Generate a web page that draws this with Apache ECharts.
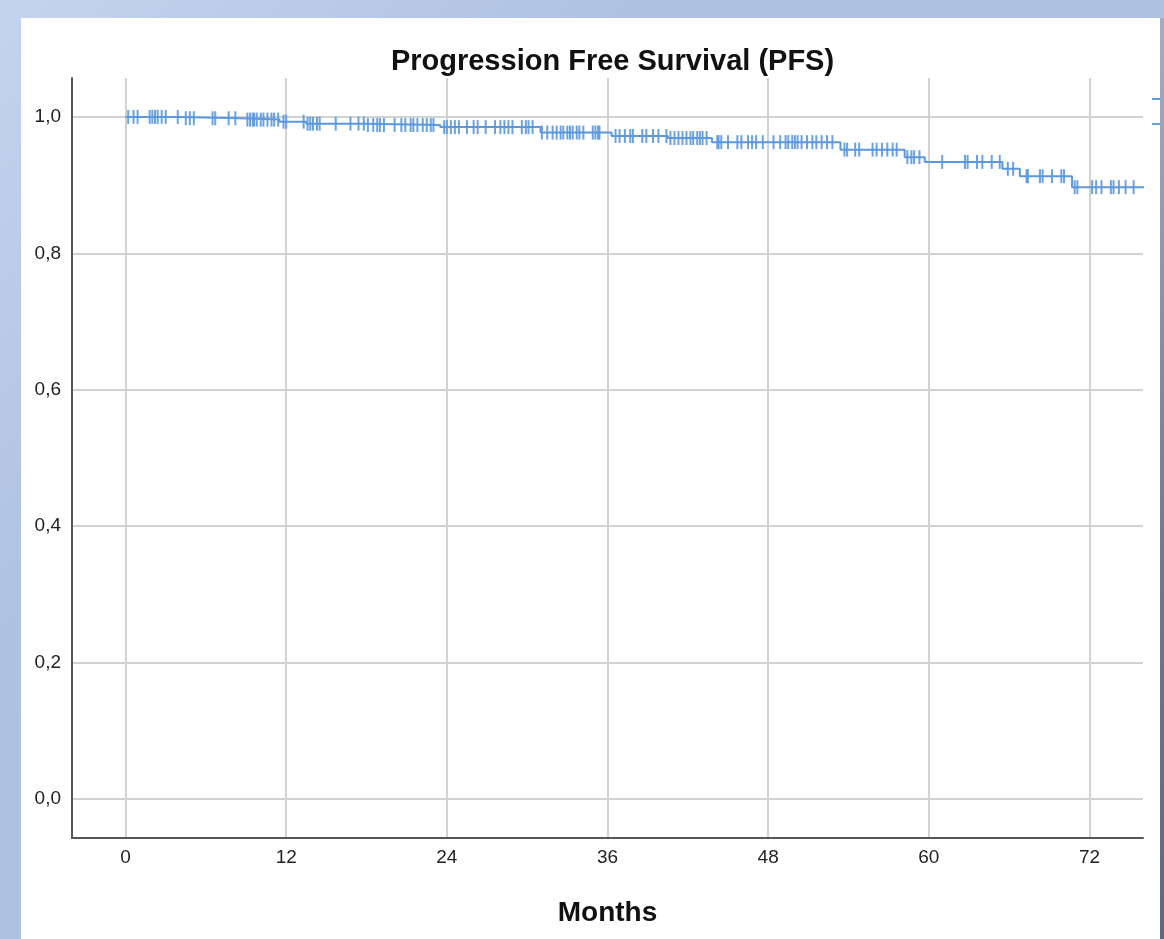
<!DOCTYPE html>
<html>
<head>
<meta charset="utf-8">
<script src="https://cdn.jsdelivr.net/npm/echarts@6/dist/echarts.min.js"></script>
<style>
  html, body { margin:0; padding:0; width:1164px; height:939px; overflow:hidden; }
  body { background: linear-gradient(135deg, #c4d4ee 0%, #b0c2e2 30%, #aebfdc 100%); position:relative; }
  #panel { position:absolute; left:21px; top:18px; width:1139px; height:921px; background:#ffffff; }
  #strip { position:absolute; left:1160px; top:18px; width:4px; height:921px; background:linear-gradient(180deg,#a2aec8 0%,#6e7890 60%,#5f6880 100%); z-index:10; }
  #chart { position:absolute; left:0; top:0; width:1164px; height:939px; z-index:5; }
</style>
</head>
<body>
<div id="panel"></div>
<div id="chart"></div>
<div id="strip"></div>
<script>
// Kaplan-Meier step points: event time (months) and survival after the event
const eventTimes = [0, 4, 8.5, 11.5, 13.5, 18, 23.5, 31, 36.3, 40.5, 43.8, 53.4, 58.2, 59.7, 65.5, 66.8, 70.7, 76.3];
const survival   = [1.0, 0.998, 0.996, 0.993, 0.990, 0.988, 0.985, 0.977, 0.972, 0.969, 0.963, 0.952, 0.941, 0.934, 0.924, 0.913, 0.897, 0.897];

// Censoring times (months)
const censorTimes = [
  0.2, 0.6, 0.9, 1.8, 2.0, 2.2, 2.4, 2.7, 3.0, 3.9, 4.5, 4.8, 5.1, 6.5, 6.7, 7.7, 8.2, 9.1, 9.3, 9.5, 9.6, 9.8,
  10.1, 10.3, 10.6, 10.9, 11.1, 11.4, 11.8, 12.0, 13.3, 13.6, 13.8, 14.0, 14.3, 14.5, 15.7, 16.8, 17.4, 17.8,
  18.1, 18.5, 18.8, 19.0, 19.3, 20.1, 20.6, 20.9, 21.3, 21.5, 21.8, 22.2, 22.5, 22.8, 23.0, 23.8, 24.0, 24.3,
  24.6, 24.9, 25.5, 26.0, 26.3, 26.9, 27.6, 28.0, 28.3, 28.6, 28.9, 29.6, 29.9, 30.1, 30.4, 31.1, 31.5, 31.9,
  32.2, 32.5, 32.7, 33.0, 33.2, 33.4, 33.7, 33.9, 34.2, 34.9, 35.1, 35.3, 35.4, 36.6, 36.9, 37.3, 37.7, 37.9,
  38.6, 38.9, 39.4, 39.8, 40.4, 40.7, 41.0, 41.3, 41.6, 41.9, 42.2, 42.4, 42.7, 42.9, 43.1, 43.4, 44.2, 44.3,
  44.5, 45.0, 45.7, 46.0, 46.5, 46.8, 47.1, 47.6, 48.4, 48.9, 49.3, 49.5, 49.8, 50.0, 50.2, 50.5, 50.9, 51.3,
  51.6, 52.0, 52.4, 52.8, 53.7, 53.9, 54.5, 54.8, 55.8, 56.1, 56.5, 56.9, 57.3, 57.6, 58.4, 58.7, 58.9, 59.3,
  61.0, 62.7, 62.9, 63.6, 64.0, 64.7, 65.3, 65.9, 66.3, 67.3, 67.4, 68.3, 68.5, 69.2, 69.9, 70.1, 70.9, 71.1,
  72.2, 72.5, 72.9, 73.6, 73.8, 74.2, 74.7, 75.3
];

const xTicks = [0, 12, 24, 36, 48, 60, 72];
const yTicks = [0, 0.2, 0.4, 0.6, 0.8, 1.0];

const titleText = 'Progression Free Survival (PFS)';
const xName = 'Months';
const seriesNames = ['Survival Function', 'Censored'];

const blue = '#5b98df';
const FONT = "'Liberation Sans', Arial, sans-serif";

function survivalAt(t) {
  let s = survival[0];
  for (let i = 0; i < eventTimes.length; i++) {
    if (eventTimes[i] <= t) s = survival[i];
  }
  return s;
}

const stepData = eventTimes.map((t, i) => [t, survival[i]]);
const censorData = censorTimes.map(t => [t, survivalAt(t)]);

const chart = echarts.init(document.getElementById('chart'), null, { renderer: 'canvas' });
chart.setOption({
  backgroundColor: 'transparent',
  animation: false,
  title: {
    text: titleText,
    left: 607.5,
    textAlign: 'center',
    top: 42,
    textStyle: { fontFamily: FONT, fontSize: 29, fontWeight: 'bold', color: '#111' }
  },
  legend: {
    orient: 'vertical',
    left: 1147,
    top: 88,
    itemWidth: 14,
    itemHeight: 2,
    itemGap: 13,
    textStyle: { fontSize: 12, lineHeight: 12, color: '#222' },
    data: [
      { name: seriesNames[0], icon: 'rect' },
      { name: seriesNames[1], icon: 'rect' }
    ]
  },
  grid: { left: 72, right: 21, top: 78, bottom: 101, containLabel: false },
  xAxis: {
    type: 'value',
    min: -4,
    max: 76,
    name: xName,
    nameLocation: 'middle',
    nameGap: 61,
    nameTextStyle: { fontFamily: FONT, fontSize: 28, fontWeight: 'bold', color: '#111' },
    axisLine: { show: true, onZero: false, lineStyle: { color: '#555', width: 2 } },
    axisTick: { show: false, customValues: xTicks },
    axisLabel: { customValues: xTicks, margin: 10, fontFamily: FONT, fontSize: 19, color: '#222' },
    splitLine: { show: true, lineStyle: { color: '#d2d2d2', width: 2 } }
  },
  yAxis: {
    type: 'value',
    min: -0.057,
    max: 1.057,
    axisLine: { show: true, onZero: false, lineStyle: { color: '#555', width: 2 } },
    axisTick: { show: false, customValues: yTicks },
    axisLabel: {
      customValues: yTicks, margin: 11,
      fontFamily: FONT, fontSize: 19, color: '#222',
      formatter: v => v.toFixed(1).replace('.', ',')
    },
    splitLine: { show: true, lineStyle: { color: '#d2d2d2', width: 2 } }
  },
  series: [
    {
      name: seriesNames[0],
      type: 'line',
      step: 'end',
      data: stepData,
      symbol: 'none',
      clip: false,
      lineStyle: { color: blue, width: 2 },
      itemStyle: { color: blue },
      z: 3
    },
    {
      name: seriesNames[1],
      type: 'scatter',
      data: censorData,
      symbol: 'rect',
      symbolSize: [2, 14],
      itemStyle: { color: blue, opacity: 0.9 },
      z: 4
    }
  ]
});
</script>
</body>
</html>
